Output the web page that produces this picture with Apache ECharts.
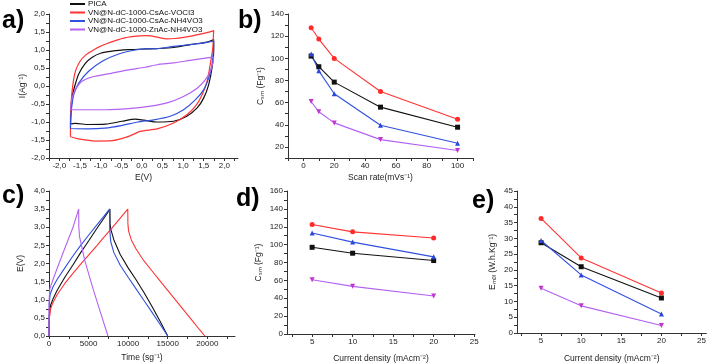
<!DOCTYPE html>
<html>
<head>
<meta charset="utf-8">
<script src="https://cdn.jsdelivr.net/npm/echarts@6/dist/echarts.min.js"></script>
<style>
html, body { margin: 0; padding: 0; background: #fff; }
#main { width: 709px; height: 364px; }
</style>
</head>
<body>
<div id="main"></div>
<script>
// series names (legend in panel a)
const names = ['PICA', 'VN@N-dC-1000-CsAc-VOCl3', 'VN@N-dC-1000-CsAc-NH4VO3', 'VN@N-dC-1000-ZnAc-NH4VO3'];

// a) cyclic voltammetry loops [E(V), I(A/g)]
const cvPICA = [[-1.73,-1.05],[-1.71,-0.6],[-1.69,-0.3],[-1.63,-0.02],[-1.53,0.33],[-1.37,0.63],[-1.2,0.8],[-1.0,0.91],[-0.72,0.97],[-0.32,1.01],[0.08,1.03],[0.37,1.04],[0.77,1.07],[1.17,1.15],[1.58,1.22],[1.74,1.29],
  [1.74,0.96],[1.7,0.5],[1.62,0.04],[1.5,-0.33],[1.34,-0.61],[1.09,-0.84],[0.77,-0.98],[0.37,-1.0],[0.05,-0.95],[-0.16,-0.92],[-0.48,-0.98],[-0.88,-1.06],[-1.29,-1.07],[-1.61,-1.04],[-1.73,-1.05]];
const cvVOCl3 = [[-1.73,-1.41],[-1.73,-0.9],[-1.71,-0.4],[-1.67,0.05],[-1.61,0.41],[-1.5,0.68],[-1.37,0.85],[-1.2,0.98],[-1.05,1.08],[-0.84,1.18],[-0.64,1.26],[-0.44,1.33],[-0.24,1.37],[0.08,1.4],[0.21,1.39],[0.4,1.35],[0.61,1.31],[0.8,1.32],[1.01,1.35],[1.22,1.39],[1.42,1.44],[1.6,1.49],[1.74,1.54],
  [1.73,1.3],[1.72,1.06],[1.67,0.69],[1.58,0.13],[1.46,-0.24],[1.3,-0.56],[1.09,-0.8],[0.77,-1.03],[0.37,-1.19],[-0.04,-1.26],[-0.32,-1.4],[-0.72,-1.52],[-1.13,-1.53],[-1.53,-1.47],[-1.73,-1.41]];
const cvCsNH4 = [[-1.73,-1.18],[-1.72,-0.8],[-1.69,-0.5],[-1.65,-0.24],[-1.53,0.08],[-1.29,0.41],[-0.96,0.69],[-0.56,0.89],[-0.16,1.0],[0.08,1.03],[0.37,1.04],[0.77,1.1],[1.17,1.15],[1.58,1.21],[1.74,1.25],
  [1.74,1.05],[1.72,0.8],[1.7,0.59],[1.62,0.22],[1.5,-0.1],[1.3,-0.38],[1.01,-0.66],[0.69,-0.84],[0.29,-0.94],[-0.1,-1.0],[-0.5,-1.1],[-0.9,-1.17],[-1.3,-1.19],[-1.73,-1.18]];
const cvZnNH4 = [[-1.73,-0.66],[-1.71,-0.45],[-1.69,-0.33],[-1.61,-0.1],[-1.45,0.13],[-1.21,0.25],[-0.72,0.36],[-0.32,0.45],[0.08,0.52],[0.37,0.59],[0.77,0.64],[1.17,0.71],[1.58,0.78],[1.74,0.8],
  [1.72,0.64],[1.66,0.41],[1.54,0.18],[1.34,-0.06],[1.01,-0.29],[0.61,-0.47],[0.21,-0.56],[-0.32,-0.63],[-0.88,-0.66],[-1.53,-0.66],[-1.73,-0.66]];

// b) capacitance vs scan rate
const scanRates = [5, 10, 20, 50, 100];
const capScanPICA = [102, 92.4, 78.5, 55.9, 37.8];
const capScanVOCl3 = [127.6, 117.4, 99.9, 70, 45];
const capScanCsNH4 = [103.8, 88.7, 68, 39.6, 23.3];
const capScanZnNH4 = [61, 51.7, 41.7, 26.6, 16.7];

// c) galvanostatic charge/discharge [time, E(V)]
const gcdPICA = [[0,0],[30,0.55],[200,0.85],[500,1.02],[1000,1.25],[2000,1.62],[3000,1.95],[4000,2.3],[5000,2.62],[6000,2.95],[7000,3.27],[7700,3.5],
  [7720,3.1],[7800,2.95],[8200,2.65],[9000,2.25],[10000,1.88],[11000,1.55],[12000,1.2],[13000,0.82],[14000,0.42],[15000,0]];
const gcdVOCl3 = [[0,0],[30,0.45],[200,0.75],[500,0.92],[1000,1.13],[2000,1.45],[3000,1.72],[4000,1.98],[5000,2.23],[6000,2.48],[7000,2.74],[8000,2.99],[9000,3.25],[9950,3.5],
  [9970,3.1],[10050,2.9],[10400,2.65],[11000,2.4],[12000,2.07],[13000,1.8],[14000,1.53],[15000,1.26],[16000,0.99],[17000,0.72],[18000,0.45],[19000,0.18],[19700,0]];
const gcdCsNH4 = [[0,0],[30,0.9],[150,1.15],[500,1.35],[1000,1.55],[2000,1.88],[3000,2.2],[4000,2.5],[5000,2.78],[6000,3.05],[7000,3.32],[7650,3.5],
  [7670,2.95],[7800,2.6],[8200,2.3],[9000,1.95],[10000,1.62],[11000,1.3],[12000,0.98],[13000,0.66],[14000,0.33],[15000,0]];
const gcdZnNH4 = [[0,0],[20,1.0],[100,1.3],[500,1.55],[1000,1.85],[2000,2.42],[3000,2.98],[3750,3.5],
  [3770,3.0],[3850,2.75],[4500,2.1],[5500,1.35],[6500,0.65],[7450,0]];

// d) capacitance and e) energy vs current density
const currentDensity = [5, 10, 20];
const capCurPICA = [97, 90.4, 82.2];
const capCurVOCl3 = [122.5, 114.3, 107.4];
const capCurCsNH4 = [113, 102.8, 86.3];
const capCurZnNH4 = [60.7, 53.3, 42.6];
const energyPICA = [28.6, 21.0, 11.1];
const energyVOCl3 = [36.3, 23.8, 12.7];
const energyCsNH4 = [29.3, 18.4, 6.0];
const energyZnNH4 = [14.2, 8.6, 2.4];

// tick values
const ticksE = [-2, -1.5, -1, -0.5, 0, 0.5, 1, 1.5, 2];
const ticksI = [-2, -1.5, -1, -0.5, 0, 0.5, 1, 1.5, 2];
const ticksScan = [0, 20, 40, 60, 80, 100];
const ticksCapB = [20, 40, 60, 80, 100, 120, 140];
const ticksTime = [0, 5000, 10000, 15000, 20000];
const ticksV = [0, 0.5, 1, 1.5, 2, 2.5, 3, 3.5, 4];
const ticksCur = [5, 10, 15, 20, 25];
const ticksCapD = [0, 20, 40, 60, 80, 100, 120, 140, 160];
const ticksEnergy = [0, 5, 10, 15, 20, 25, 30, 35, 40, 45];

const lineColors = ['#111111', '#ff3333', '#3050e0', '#b462f2'];
const markColors = ['#111111', '#ff2a2a', '#2a48d8', '#c236cc'];
const symbols = ['rect', 'circle', 'triangle', 'triangle'];
const rotations = [0, 0, 0, 180];
const font = '"Liberation Sans", Arial, sans-serif';

function withMinors(majors) {
  // ticks halfway between majors, plus one on each side
  const out = [];
  const step = majors[1] - majors[0];
  for (let i = -1; i < majors.length; i++) {
    const v = majors[0] + (i + 0.5) * step;
    out.push(+v.toFixed(6));
    if (i >= 0) out.push(majors[i]);
  }
  return out;
}

function axis(gridIndex, min, max, majors, name, gap, fmt) {
  return {
    type: 'value', gridIndex: gridIndex, min: min, max: max,
    name: name, nameLocation: 'middle', nameGap: gap,
    nameTextStyle: { fontSize: 8.5, color: '#222', fontFamily: font },
    axisLine: { show: true, onZero: false, lineStyle: { color: '#333', width: 1 } },
    axisTick: { show: true, inside: false, length: 3, customValues: withMinors(majors).filter(v => v >= min && v <= max), lineStyle: { color: '#333' } },
    axisLabel: { show: true, fontSize: 8, color: '#222', margin: 4, fontFamily: font, customValues: majors, formatter: fmt || (v => String(v)) },
    splitLine: { show: false }
  };
}
const comma = v => v.toFixed(1).replace('.', ',');

const chart = echarts.init(document.getElementById('main'));

const cvSets = [cvPICA, cvVOCl3, cvCsNH4, cvZnNH4];
const gcdSets = [gcdPICA, gcdVOCl3, gcdCsNH4, gcdZnNH4];
const scanSets = [capScanPICA, capScanVOCl3, capScanCsNH4, capScanZnNH4];
const capCurSets = [capCurPICA, capCurVOCl3, capCurCsNH4, capCurZnNH4];
const energySets = [energyPICA, energyVOCl3, energyCsNH4, energyZnNH4];

const series = [];
names.forEach((n, i) => {
  series.push({ name: n, type: 'line', xAxisIndex: 0, yAxisIndex: 0, data: cvSets[i], showSymbol: false, smooth: 0.25,
    lineStyle: { color: lineColors[i], width: 1.2 }, itemStyle: { color: lineColors[i] } });
});
names.forEach((n, i) => {
  series.push({ name: n, type: 'line', xAxisIndex: 2, yAxisIndex: 2, data: gcdSets[i], showSymbol: false,
    lineStyle: { color: lineColors[i], width: 1.1 }, itemStyle: { color: lineColors[i] } });
});
function markerSeries(ax, xs, sets) {
  names.forEach((n, i) => {
    series.push({ name: n, type: 'line', xAxisIndex: ax, yAxisIndex: ax,
      data: xs.map((x, k) => [x, sets[i][k]]),
      symbol: symbols[i], symbolRotate: rotations[i], symbolSize: 5, showSymbol: true,
      lineStyle: { color: lineColors[i], width: 1.1 }, itemStyle: { color: markColors[i] } });
  });
}
markerSeries(1, scanRates, scanSets);
markerSeries(3, currentDensity, capCurSets);
markerSeries(4, currentDensity, energySets);

const letter = (txt, x, y) => ({ type: 'text', left: x, top: y,
  style: { text: txt, fontSize: 25, fontWeight: 'bold', fill: '#000', font: 'bold 25px ' + font } });

chart.setOption({
  animation: false,
  backgroundColor: '#fff',
  textStyle: { fontFamily: font },
  grid: [
    { left: 49, top: 14, width: 189, height: 144 },
    { left: 288, top: 14, width: 185, height: 144 },
    { left: 49, top: 191, width: 186, height: 145 },
    { left: 287, top: 191, width: 188, height: 144 },
    { left: 517, top: 191, width: 192, height: 143 }
  ],
  xAxis: [
    axis(0, -2.25, 2.33, ticksE, 'E(V)', 15, comma),
    axis(1, -10, 110, ticksScan, 'Scan rate(mVs\u207B\u00B9)', 15),
    axis(2, 0, 23500, ticksTime, 'Time (sg\u207B\u00B9)', 17),
    axis(3, 1.9, 25.1, ticksCur, 'Current density (mAcm\u207B\u00B2)', 20),
    axis(4, 2, 25.6, ticksCur, 'Current density (mAcm\u207B\u00B2)', 21)
  ],
  yAxis: [
    axis(0, -2, 2, ticksI, 'I(Ag\u207B\u00B9)', 21, comma),
    axis(1, 10, 140, ticksCapB, 'C\u209B\u2098 (Fg\u207B\u00B9)', 23),
    axis(2, 0, 4, ticksV, 'E(V)', 24, comma),
    axis(3, 0, 160, ticksCapD, 'C\u209B\u2098 (Fg\u207B\u00B9)', 24),
    axis(4, 0, 45, ticksEnergy, 'E\u2098\u2092\u2097 (W.h.Kg\u207B\u00B9)', 20)
  ],
  legend: {
    data: names, orient: 'vertical', left: 70, top: 0, itemGap: 0.5,
    icon: 'rect', itemWidth: 15, itemHeight: 2, padding: 0,
    textStyle: { fontSize: 8, color: '#111', lineHeight: 8, fontFamily: font, padding: [0, 0, 0, -2] },
    selectedMode: false
  },
  graphic: [
    letter('a)', 2, 9),
    letter('b)', 238, 9),
    letter('c)', 2, 184),
    letter('d)', 236, 187),
    letter('e)', 472, 189)
  ],
  series: series
});
</script>
</body>
</html>
